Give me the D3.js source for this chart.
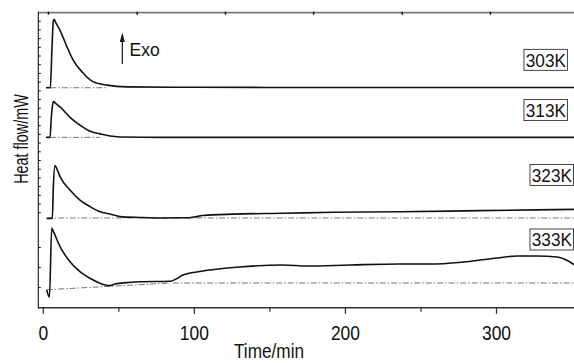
<!DOCTYPE html>
<html><head><meta charset="utf-8">
<script src="https://cdn.jsdelivr.net/npm/d3@7"></script>
<style>body{margin:0;background:#fff} svg{display:block}</style>
</head><body>
<svg id="c" width="574" height="363"></svg>
<script>
// ---- data (time in min, heat flow in arbitrary stacked mW units) ----
const temps = ["303K", "313K", "323K", "333K"];
const curve303 = [[2.1,25.3],[5.0,25.3],[6.0,29.5],[7.0,33.0],[7.5,33.15],[8.5,32.8],[11.4,31.9],[16,30.0],[20,28.5],[26.6,27.0],[33.2,26.0],[42.5,25.6],[55.7,25.4],[100,25.35],[200,25.33],[356,25.33]];
const curve313 = [[2.1,19.6],[4.8,19.6],[5.6,21.8],[6.8,23.6],[7.3,23.7],[8.5,23.5],[11.4,23.1],[18,21.9],[24.6,21.0],[31.3,20.3],[37.9,20.0],[44.5,19.75],[51.1,19.65],[80,19.6],[200,19.6],[356,19.6]];
const curve323 = [[2.6,10.3],[6.3,10.3],[7.0,14.0],[8.1,16.35],[9.0,16.1],[11.4,15.1],[18,13.55],[24.6,12.4],[31.2,11.65],[37.9,11.06],[44.5,10.8],[51.1,10.5],[64.3,10.4],[77.6,10.34],[95.4,10.36],[100,10.45],[106,10.62],[126,10.78],[159,10.88],[192,10.99],[236.5,11.06],[289.5,11.18],[356,11.34]];
const curve333 = [[2.6,2.07],[4.4,1.26],[5.9,9.19],[7.0,8.8],[11.4,7.04],[18,5.32],[24.6,4.17],[31.2,3.41],[37.9,2.84],[41.2,2.64],[44.5,2.57],[47.8,2.76],[55.7,2.91],[64.3,3.02],[84.2,3.07],[88.2,3.33],[92.8,3.79],[104,4.19],[130.5,4.71],[159,4.94],[174.9,4.82],[203.4,4.94],[236.5,5.05],[256.4,5.05],[278.2,5.28],[300.7,5.74],[314,5.97],[327.2,5.97],[340.4,5.86],[349,5.28],[352,4.94]];
const baselines = [
  [[5.0,25.3],[42.5,25.3]],
  [[4.8,19.6],[38,19.6]],
  [[2.6,10.34],[356,10.34]],
  [[2.6,2.1],[84.2,2.87]],
  [[86,2.87],[356,2.87]]
];
const xMajorTicks = [0, 100, 200, 300];
const xMinorTicks = [50, 150, 250];
const topTicks = [3.4, 62.2, 120.6, 178.9, 237.6, 296];
const yTicks = [2.4, 4.7, 7.0, 11,12,13,14,15,16,17,18,19,20,21,22,23,24,25,26,27,28,29,30,31,32,33];
const labelPos = [[318.5,28.5],[318.5,22.74],[322.5,15.28],[322.5,7.87]];

// ---- layout ----
const W = 574, H = 363;
const mLeft = 38.3, mTop = 12.7, mBottom = 307.8;
const x = d3.scaleLinear().domain([0, 300]).range([42.8, 496]);
const y = d3.scaleLinear().domain([0, 34]).range([308, 12]);
const svg = d3.select('#c');
const FONT = '"Liberation Sans", Arial, Helvetica, sans-serif';

function ctext(g, str, px, py, fs, sx, anchor, rot) {
  const t = g.append('g').attr('transform', `translate(${px},${py})` + (rot ? ` rotate(${rot})` : '') + ` scale(${sx},1)`);
  t.append('text').text(str).attr('font-family', FONT).attr('font-size', fs)
    .attr('text-anchor', anchor || 'start').attr('fill', '#111');
  return t;
}

// curves
const line = d3.line().x(d => x(d[0])).y(d => y(d[1])).curve(d3.curveMonotoneX);
const plot = svg.append('g');
baselines.forEach(b => {
  plot.append('path').attr('d', d3.line().x(d => x(d[0])).y(d => y(d[1]))(b))
    .attr('fill', 'none').attr('stroke', '#666').attr('stroke-width', 0.9)
    .attr('stroke-dasharray', '6,2,1.5,2');
});
[curve303, curve313, curve323, curve333].forEach(c => {
  plot.append('path').attr('d', line(c)).attr('fill', 'none')
    .attr('stroke', '#111').attr('stroke-width', 1.6).attr('stroke-linejoin', 'round');
});

// frame lines
svg.append('line').attr('x1', mLeft).attr('x2', W).attr('y1', mTop).attr('y2', mTop)
  .attr('stroke', '#7a7a7a').attr('stroke-width', 1.8);
svg.append('line').attr('x1', mLeft).attr('x2', W).attr('y1', mBottom).attr('y2', mBottom)
  .attr('stroke', '#333').attr('stroke-width', 1.5);
svg.append('line').attr('x1', mLeft).attr('x2', mLeft).attr('y1', mTop - 0.9).attr('y2', mBottom + 0.7)
  .attr('stroke', '#111').attr('stroke-width', 1.1);

// bottom axis
const gx = svg.append('g').attr('transform', `translate(0,${mBottom})`)
  .call(d3.axisBottom(x).tickValues(xMajorTicks).tickSize(6).tickFormat(d3.format('d')));
gx.select('.domain').remove();
gx.selectAll('line').attr('stroke', '#333').attr('stroke-width', 1.3);
gx.selectAll('text').remove();
gx.selectAll('.tick').each(function(d) {
  ctext(d3.select(this), String(d), 0, 32.5, 20.5, 0.85, 'middle');
});
const gxm = svg.append('g').attr('transform', `translate(0,${mBottom})`)
  .call(d3.axisBottom(x).tickValues(xMinorTicks).tickSize(4).tickFormat(''));
gxm.select('.domain').remove();
gxm.selectAll('line').attr('stroke', '#333').attr('stroke-width', 1.3);

// top ticks
const gt = svg.append('g').attr('transform', `translate(0,${mTop})`)
  .call(d3.axisBottom(x).tickValues(topTicks).tickSize(2).tickFormat(''));
gt.select('.domain').remove();
gt.selectAll('line').attr('stroke', '#111').attr('stroke-width', 1.5).attr('y1', -1);

// left axis (inward ticks)
const gy = svg.append('g').attr('transform', `translate(${mLeft},0)`)
  .call(d3.axisRight(y).tickValues(yTicks).tickSize(2.5).tickFormat(''));
gy.select('.domain').remove();
gy.selectAll('line').attr('stroke', '#111').attr('stroke-width', 1);

// axis titles
ctext(svg, 'Time/min', 269, 358, 20.5, 0.84, 'middle');
ctext(svg, 'Heat flow/mW', 28, 139, 19.5, 0.74, 'middle', -90);

// temperature labels
temps.forEach((lab, i) => {
  const bx = x(labelPos[i][0]), by = y(labelPos[i][1]);
  svg.append('rect').attr('x', bx).attr('y', by - 10.5).attr('width', 43.5).attr('height', 21)
    .attr('fill', '#fff').attr('stroke', '#444').attr('stroke-width', 1);
  ctext(svg, lab, bx + 1.8, by + 6.8, 18.5, 0.93, 'start');
});

// Exo arrow
svg.append('line').attr('x1', 122.3).attr('x2', 122.3).attr('y1', 40).attr('y2', 64)
  .attr('stroke', '#111').attr('stroke-width', 1.2);
svg.append('path').attr('d', 'M122.3,32.5 L119.8,42 L124.8,42 Z').attr('fill', '#111');
ctext(svg, 'Exo', 129.5, 55.5, 17.5, 1.0, 'start');
</script>
</body></html>
